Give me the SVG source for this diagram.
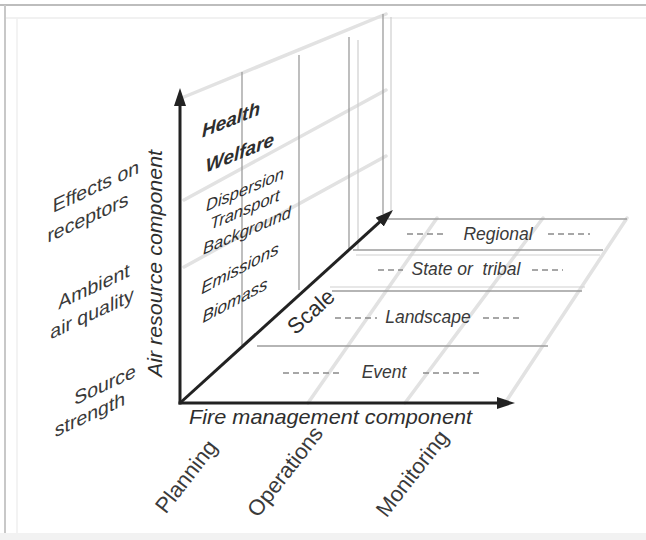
<svg xmlns="http://www.w3.org/2000/svg" width="646" height="540" viewBox="0 0 646 540">
  <style>
    text { font-family: "Liberation Sans", Arial, sans-serif; fill: #2e2e2e; }
    .ax { font-size: 21px; font-style: italic; }
    .side { font-size: 19.5px; text-anchor: middle; fill: #3a3a3a; }
    .wall { font-style: italic; text-anchor: middle; }
    .row { font-size: 17.5px; font-style: italic; text-anchor: middle; fill: #3a3a3a; }
    .col { font-size: 22px; text-anchor: middle; fill: #3a3a3a; }
    .edge { stroke: #9c9c9c; stroke-width: 1.3; fill: none; }
    .edge2 { stroke: #cfcfcf; stroke-width: 1.2; fill: none; }
    .band { stroke: #e2e2e2; stroke-width: 3.5; fill: none; stroke-linecap: round; }
    .dash { stroke: #8a8a8a; stroke-width: 1.6; stroke-dasharray: 6 4; fill: none; }
    .axis { stroke: #222; stroke-width: 3; fill: none; }
  </style>
  <defs>
    <marker id="head" markerUnits="userSpaceOnUse" viewBox="0 0 18 12" markerWidth="18" markerHeight="12" refX="8" refY="6" orient="auto">
      <path d="M0,0 L18,6 L0,12 z" fill="#222"/>
    </marker>
  </defs>
  <rect x="0" y="0" width="646" height="540" fill="#ffffff"/>
  <g id="frame">
    <line x1="0" y1="5" x2="646" y2="5" stroke="#bdbdbd" stroke-width="2"/>
    <line x1="5" y1="18" x2="646" y2="18" stroke="#ececec" stroke-width="1.5"/>
    <line x1="5" y1="5" x2="5" y2="533" stroke="#c8c8c8" stroke-width="2"/>
    <line x1="17" y1="18" x2="17" y2="533" stroke="#efefef" stroke-width="1.5"/>
    <rect x="0" y="533" width="646" height="7" fill="#f2f2f2"/>
  </g>
  <g id="wall">
    <line class="band" x1="184" y1="97" x2="386" y2="14"/>
    <line class="band" x1="184" y1="200" x2="386" y2="90"/>
    <line class="band" x1="184" y1="267" x2="386" y2="156"/>
    <line class="edge" x1="242" y1="72" x2="242" y2="345"/>
    <line class="edge" x1="299" y1="55" x2="299" y2="290"/>
    <line class="edge" x1="349" y1="37" x2="349" y2="250"/>
    <line class="edge2" x1="358" y1="40" x2="358" y2="250"/>
    <line class="edge" x1="383" y1="14" x2="383" y2="214"/>
    <line class="edge2" x1="391" y1="17" x2="391" y2="214"/>
  </g>
  <g id="floor">
    <line class="band" x1="308" y1="403" x2="437" y2="218"/>
    <line class="band" x1="405" y1="403" x2="543" y2="218"/>
    <line class="band" x1="505" y1="403" x2="627" y2="218"/>
    <line class="edge" x1="388" y1="219" x2="627" y2="219"/>
    <line class="edge" x1="353" y1="250" x2="603" y2="250"/>
    <line class="edge2" x1="356" y1="255" x2="600" y2="255"/>
    <line class="edge2" x1="330" y1="287" x2="585" y2="287"/>
    <line class="edge" x1="332" y1="291" x2="582" y2="291"/>
    <line class="edge" x1="257" y1="346" x2="548" y2="346"/>
  </g>
  <g id="connectors">
    <line class="axis" x1="180" y1="404.5" x2="180" y2="98" marker-end="url(#head)"/>
    <line class="axis" x1="178.5" y1="403" x2="505" y2="403" marker-end="url(#head)"/>
    <line class="axis" stroke-width="2.6" x1="180" y1="403" x2="385.6" y2="216.7" marker-end="url(#head)"/>
  </g>
  <g id="axis-air">
    <text class="ax" transform="translate(162,263.5) rotate(-90)" text-anchor="middle" textLength="227" lengthAdjust="spacingAndGlyphs">Air resource component</text>
  </g>
  <g id="axis-fire">
    <text class="ax" x="189" y="424" textLength="283" lengthAdjust="spacingAndGlyphs">Fire management component</text>
  </g>
  <g id="axis-scale">
    <text transform="translate(316,317) rotate(-42)" text-anchor="middle" font-size="22" fill="#3a3a3a">Scale</text>
  </g>
  <g id="effects">
    <text class="side" transform="translate(96,193) skewY(-25)">Effects on</text>
    <text class="side" transform="translate(88,224) skewY(-25)">receptors</text>
  </g>
  <g id="ambient">
    <text class="side" transform="translate(94,293) skewY(-25)">Ambient</text>
    <text class="side" transform="translate(92,320) skewY(-25)">air quality</text>
  </g>
  <g id="source">
    <text class="side" transform="translate(105,391) skewY(-25)">Source</text>
    <text class="side" transform="translate(90,421) skewY(-25)">strength</text>
  </g>
  <g id="receptors-items">
    <text class="wall" font-size="19" font-weight="bold" transform="translate(231,126) skewY(-22)">Health</text>
    <text class="wall" font-size="19" font-weight="bold" transform="translate(240,159) skewY(-22)">Welfare</text>
  </g>
  <g id="air-items">
    <text class="wall" font-size="16.5" transform="translate(245,195) skewY(-23)">Dispersion</text>
    <text class="wall" font-size="16.5" transform="translate(245,215) skewY(-23)">Transport</text>
    <text class="wall" font-size="16.5" transform="translate(247,236) skewY(-23)">Background</text>
  </g>
  <g id="source-items">
    <text class="wall" font-size="17" fill="#555" transform="translate(240,274) skewY(-28)">Emissions</text>
    <text class="wall" font-size="17" fill="#555" transform="translate(235,306) skewY(-28)">Biomass</text>
  </g>
  <g id="row-regional">
    <line class="dash" x1="407" y1="234" x2="447" y2="234"/>
    <text class="row" x="498" y="240">Regional</text>
    <line class="dash" x1="548" y1="234" x2="590" y2="234"/>
  </g>
  <g id="row-state">
    <line class="dash" x1="378" y1="270" x2="403" y2="270" stroke-dasharray="5 3"/>
    <text class="row" x="466" y="275" xml:space="preserve">State or  tribal</text>
    <line class="dash" x1="532" y1="270" x2="563" y2="270" stroke-dasharray="5 3"/>
  </g>
  <g id="row-landscape">
    <line class="dash" x1="335" y1="318" x2="377" y2="318"/>
    <text class="row" x="428" y="323">Landscape</text>
    <line class="dash" x1="483" y1="318" x2="523" y2="318"/>
  </g>
  <g id="row-event">
    <line class="dash" x1="283" y1="373" x2="340" y2="373" stroke-dasharray="5 3"/>
    <text class="row" x="384" y="378">Event</text>
    <line class="dash" x1="423" y1="373" x2="483" y2="373" stroke-dasharray="5 3"/>
  </g>
  <g id="col-planning">
    <text class="col" transform="translate(192,481) rotate(-52)">Planning</text>
  </g>
  <g id="col-operations">
    <text class="col" transform="translate(291,476) rotate(-52)">Operations</text>
  </g>
  <g id="col-monitoring">
    <text class="col" transform="translate(418,478) rotate(-52)">Monitoring</text>
  </g>
</svg>
